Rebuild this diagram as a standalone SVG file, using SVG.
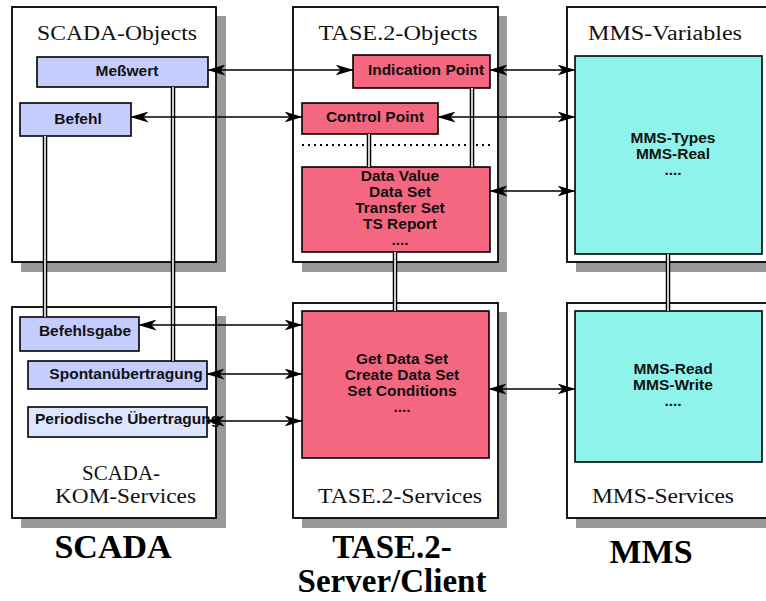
<svg xmlns="http://www.w3.org/2000/svg" width="766" height="601" viewBox="0 0 766 601">
<style>
.shadow{fill:#999999;stroke:none}
.panel{fill:#ffffff;stroke:#000;stroke-width:1.8}
.blue{fill:#c5cdff;stroke:#000;stroke-width:1.6}
.lblue{fill:#dde5ff;stroke:#000;stroke-width:1.6}
.red{fill:#f56780;stroke:#000;stroke-width:1.6}
.cyan{fill:#8ef3ea;stroke:#000;stroke-width:1.6}
.title{font-family:"Liberation Serif","Times New Roman",serif;font-size:20px;fill:#111;text-anchor:middle}
.lbl{font-family:"Liberation Sans",Arial,sans-serif;font-size:15.5px;font-weight:bold;fill:#111;text-anchor:middle}
.big{font-family:"Liberation Serif","Times New Roman",serif;font-size:34px;font-weight:bold;fill:#000;text-anchor:middle}
.dbl-o{stroke:#000;stroke-width:4.5;fill:none}
.dbl-i{stroke:#fff;stroke-width:1.6;fill:none}
.conn{stroke:#000;stroke-width:1.5;fill:none;marker-start:url(#ah);marker-end:url(#ah)}
.dot{stroke:#000;stroke-width:2;stroke-dasharray:2,4;fill:none}
</style>
<defs>
<marker id="ah" viewBox="0 0 18 11" markerUnits="userSpaceOnUse" markerWidth="18" markerHeight="11" refX="17.5" refY="5.5" orient="auto-start-reverse">
<path d="M0,0 L18,5.5 L0,11 L5,5.5 Z" fill="#000"/>
</marker>
</defs>

<g id="panel-scada-objects">
<rect class="shadow" x="21" y="16" width="205" height="256"/>
<rect class="panel" x="12" y="7" width="204" height="255"/>
<text class="title" x="117" y="40" textLength="160" lengthAdjust="spacingAndGlyphs">SCADA-Objects</text>
</g>
<g id="panel-tase-objects">
<rect class="shadow" x="302" y="16" width="205" height="256"/>
<rect class="panel" x="293" y="7" width="205" height="255"/>
<text class="title" x="398" y="40" textLength="159" lengthAdjust="spacingAndGlyphs">TASE.2-Objects</text>
</g>
<g id="panel-mms-variables">
<rect class="shadow" x="576" y="16" width="210" height="256"/>
<rect class="panel" x="567" y="7" width="210" height="255"/>
<text class="title" x="665" y="40" textLength="154" lengthAdjust="spacingAndGlyphs">MMS-Variables</text>
</g>
<g id="panel-scada-services">
<rect class="shadow" x="21" y="316" width="205" height="212"/>
<rect class="panel" x="12" y="307" width="204" height="211"/>
<text class="title" x="121" y="480" textLength="78" lengthAdjust="spacingAndGlyphs">SCADA-</text>
<text class="title" x="125.5" y="503" textLength="141" lengthAdjust="spacingAndGlyphs">KOM-Services</text>
</g>
<g id="panel-tase-services">
<rect class="shadow" x="302" y="312" width="205" height="216"/>
<rect class="panel" x="293" y="303" width="205" height="215"/>
<text class="title" x="400" y="503" textLength="164" lengthAdjust="spacingAndGlyphs">TASE.2-Services</text>
</g>
<g id="panel-mms-services">
<rect class="shadow" x="576" y="312" width="210" height="216"/>
<rect class="panel" x="567" y="303" width="210" height="215"/>
<text class="title" x="663" y="503" textLength="142" lengthAdjust="spacingAndGlyphs">MMS-Services</text>
</g>

<g id="node-messwert">
<rect class="blue" x="37" y="57" width="171" height="30"/>
<text class="lbl" x="127" y="76">Meßwert</text>
</g>
<g id="node-befehl">
<rect class="blue" x="20" y="103" width="111" height="33"/>
<text class="lbl" x="78" y="124">Befehl</text>
</g>
<g id="node-indication-point">
<rect class="red" x="353" y="55" width="137" height="33"/>
<text class="lbl" x="426" y="75">Indication Point</text>
</g>
<g id="node-control-point">
<rect class="red" x="302" y="103" width="136" height="31"/>
<text class="lbl" x="375" y="122">Control Point</text>
</g>
<line class="dot" x1="302" y1="145" x2="490" y2="145"/>
<g id="node-data-value">
<rect class="red" x="302" y="167" width="188" height="85"/>
<text class="lbl" x="400" y="181">Data Value</text>
<text class="lbl" x="400" y="197">Data Set</text>
<text class="lbl" x="400" y="213">Transfer Set</text>
<text class="lbl" x="400" y="229">TS Report</text>
<text class="lbl" x="400" y="245">....</text>
</g>
<g id="node-mms-types">
<rect class="cyan" x="575" y="56" width="187" height="198"/>
<text class="lbl" x="673" y="143">MMS-Types</text>
<text class="lbl" x="673" y="159">MMS-Real</text>
<text class="lbl" x="673" y="175">....</text>
</g>
<g id="node-befehlsgabe">
<rect class="blue" x="20" y="317" width="119" height="34"/>
<text class="lbl" x="85" y="336">Befehlsgabe</text>
</g>
<g id="node-spontan">
<rect class="blue" x="28" y="361" width="179" height="28"/>
<text class="lbl" x="126" y="379">Spontanübertragung</text>
</g>
<g id="node-periodisch">
<rect class="lblue" x="28" y="407" width="179" height="30"/>
<text class="lbl" x="35" y="424" style="text-anchor:start">Periodische Übertragung</text>
</g>
<g id="node-get-data-set">
<rect class="red" x="302" y="311" width="187" height="147"/>
<text class="lbl" x="402" y="364">Get Data Set</text>
<text class="lbl" x="402" y="380">Create Data Set</text>
<text class="lbl" x="402" y="396">Set Conditions</text>
<text class="lbl" x="402" y="412">....</text>
</g>
<g id="node-mms-read">
<rect class="cyan" x="575" y="311" width="187" height="151"/>
<text class="lbl" x="673" y="374">MMS-Read</text>
<text class="lbl" x="673" y="390">MMS-Write</text>
<text class="lbl" x="673" y="406">....</text>
</g>

<g id="connectors">
<path class="dbl-o" d="M45,136 V317 M173,87 V361 M369,134 V167 M472,88 V167 M395,252 V311 M668,254 V311"/>
<path class="dbl-i" d="M45,136 V317 M173,87 V361 M369,134 V167 M472,88 V167 M395,252 V311 M668,254 V311"/>
<line class="conn" x1="208" y1="70" x2="353" y2="70"/>
<line class="conn" x1="490" y1="70" x2="575" y2="70"/>
<line class="conn" x1="131" y1="117" x2="302" y2="117"/>
<line class="conn" x1="438" y1="117" x2="575" y2="117"/>
<line class="conn" x1="490" y1="191" x2="575" y2="191"/>
<line class="conn" x1="139" y1="325" x2="302" y2="325"/>
<line class="conn" x1="207" y1="374" x2="302" y2="374"/>
<line class="conn" x1="207" y1="421" x2="302" y2="421"/>
<line class="conn" x1="489" y1="389" x2="575" y2="389"/>
</g>

<g id="footer-labels">
<text class="big" x="113" y="558">SCADA</text>
<text class="big" x="392" y="558" style="font-size:33px">TASE.2-</text>
<text class="big" x="392" y="592" style="font-size:33px">Server/Client</text>
<text class="big" x="651" y="563">MMS</text>
</g>
</svg>
